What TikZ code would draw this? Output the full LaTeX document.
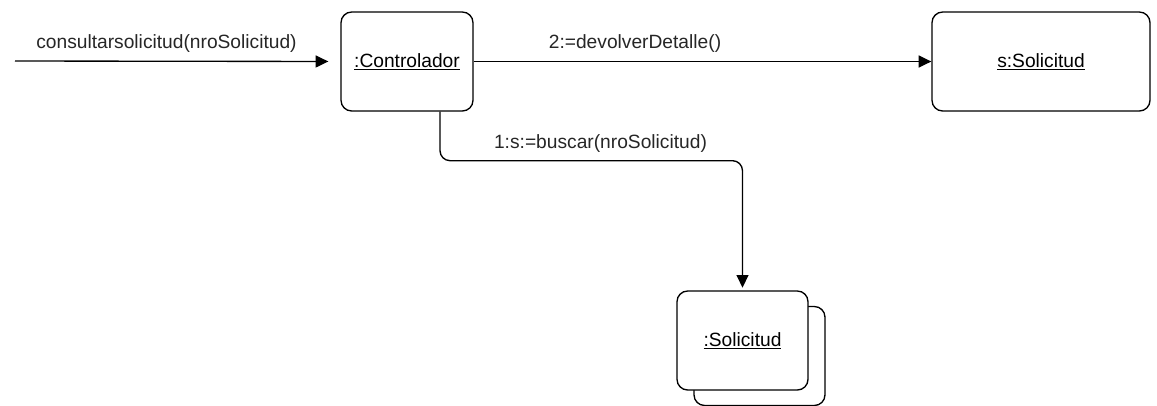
\documentclass[tikz,border=0pt]{standalone}
\usepackage{fontspec}
\setmainfont{Liberation Sans}
\usetikzlibrary{arrows.meta,calc}
\begin{document}
\begin{tikzpicture}[x=0.75pt,y=-0.75pt,
  txt/.style={font=\fontsize{14.4}{17}\selectfont},
  obj/.style={draw, line width=1pt, rounded corners=8pt, fill=white, txt,
    minimum width=#1, minimum height=74.25pt, inner sep=0pt},
  obj/.default=99pt,
  msg/.style={draw, line width=1pt, -{Triangle[length=9.5pt,width=9pt]}},
  lbl/.style={txt, inner sep=0pt, text=black!85}]
  \useasboundingbox (0,0) rectangle (1157,405);

  % objects
  \node[obj=99pt] (ctrl) at (407,61.5) {\underline{:Controlador}};
  \node[obj=163.5pt] (sdet) at (1041,61.5) {\underline{s:Solicitud}};
  \node[obj=98.25pt] (mback) at (759.5,356) {};
  \node[obj=98.25pt] (sol) at (742.5,340.5) {\underline{:Solicitud}};

  % incoming message
  \coordinate (start) at (15,61);
  \draw[msg, shorten >=9pt] (start) -- (ctrl.west);
  \node[lbl] (m0) at (166.5,44) {consultarsolicitud(nroSolicitud)};

  % message 2
  \draw[msg] (ctrl.east) -- (sdet.west);
  \node[lbl] (m2) at (635,44) {2:=devolverDetalle()};

  % message 1
  \draw[msg, rounded corners=7.5pt, shorten >=2pt] ([xshift=24.75pt]ctrl.south) -- ++(0,49) -| (sol.north);
  \node[lbl] (m1) at (600.5,144) {1:s:=buscar(nroSolicitud)};
\end{tikzpicture}
\end{document}
